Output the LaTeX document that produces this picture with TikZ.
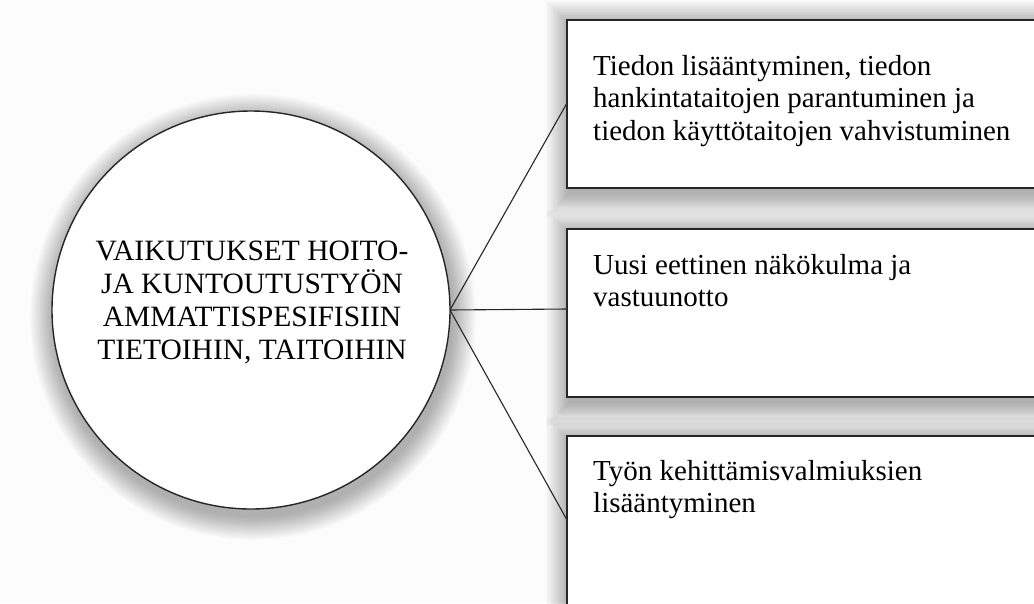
\documentclass[tikz,border=0pt]{standalone}
\usepackage{fontspec}
\setmainfont{Liberation Serif}
\begin{document}
\begin{tikzpicture}[x=1pt,y=-1pt,
  outline/.style={draw=black!85, line width=1.4pt, fill=white},
  link/.style={draw=black!85, line width=1.1pt},
  boxtext/.style={anchor=north west, align=left, font=\fontsize{29}{32.5}\selectfont, inner sep=0pt},
  hubtext/.style={align=center, font=\fontsize{29.5}{33}\selectfont, inner sep=0pt}]
  % canvas
  \useasboundingbox (0,0) rectangle (1034,603);
  \clip (0,0) rectangle (1034,603);
  \fill[black!1] (0,0) rectangle (1034,603);

  % soft drop shadows
  \foreach \i in {1,...,20} {
    \fill[black, opacity=0.016] (251+2,310+7) circle ({199+\i*1.2});
    \fill[black, opacity=0.016] (567-\i*1.2+3,20-\i*1.2+5) rectangle (1060+\i*1.2,188+\i*1.2+5);
    \fill[black, opacity=0.016] (567-\i*1.2+3,229-\i*1.2+5) rectangle (1060+\i*1.2,397+\i*1.2+5);
    \fill[black, opacity=0.016] (567-\i*1.2+3,436-\i*1.2+5) rectangle (1060+\i*1.2,640+\i*1.2+5);
  }

  % connectors from the hub to the three boxes
  \coordinate (hub) at (450,310);
  \coordinate (b1in) at (567,103);
  \coordinate (b2in) at (567,309);
  \coordinate (b3in) at (567,520);
  \draw[link] (hub) -- (b1in);
  \draw[link] (hub) -- (b2in);
  \draw[link] (hub) -- (b3in);

  % central circle
  \draw[outline] (251,310) circle (199);
  \node[hubtext] (hubtxt) at (252,302) {VAIKUTUKSET HOITO-\\JA KUNTOUTUSTYÖN\\AMMATTISPESIFISIIN\\TIETOIHIN, TAITOIHIN};

  % result boxes
  \draw[outline] (567,20) rectangle (1060,188);
  \draw[outline] (567,229) rectangle (1060,397);
  \draw[outline] (567,436) rectangle (1060,640);

  \node[boxtext] (t1) at (593,55) {Tiedon lisääntyminen, tiedon\\hankintataitojen parantuminen ja\\tiedon käyttötaitojen vahvistuminen};
  \node[boxtext] (t2) at (593,254) {Uusi eettinen näkökulma ja\\vastuunotto};
  \node[boxtext] (t3) at (593,460) {Työn kehittämisvalmiuksien\\lisääntyminen};
\end{tikzpicture}
\end{document}
